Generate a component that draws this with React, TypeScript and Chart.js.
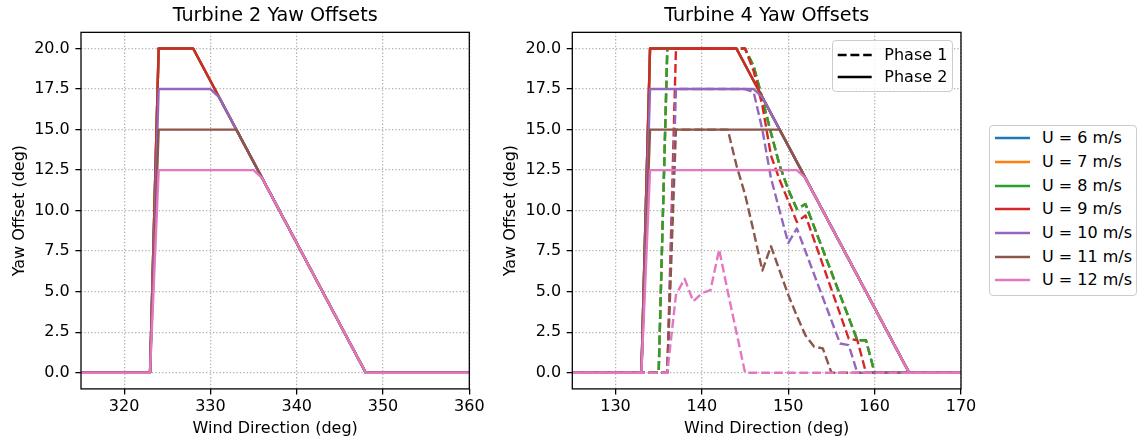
import React, { useEffect, useRef } from 'react';
import { Chart, registerables } from 'chart.js';

Chart.register(...registerables);

const FONT = '"DejaVu Sans", sans-serif';

const speedLabels = ['U = 6 m/s', 'U = 7 m/s', 'U = 8 m/s', 'U = 9 m/s', 'U = 10 m/s', 'U = 11 m/s', 'U = 12 m/s'];
const speedColors = ['#1f77b4', '#ff7f0e', '#2ca02c', '#d62728', '#9467bd', '#8c564b', '#e377c2'];
const yawTicks = [0, 2.5, 5, 7.5, 10, 12.5, 15, 17.5, 20];
const t2DirTicks = [320, 330, 340, 350, 360];
const t4DirTicks = [130, 140, 150, 160, 170];
const phaseLabels = ['Phase 1', 'Phase 2'];

// Turbine 2, phase 2 (breakpoints)
const t2Dir20 = [315, 323, 324, 328, 348, 360];
const t2Yaw20 = [0, 0, 20, 20, 0, 0];
const t2Dir10 = [315, 323, 324, 330, 331, 348, 360];
const t2Yaw10 = [0, 0, 17.5, 17.5, 17, 0, 0];
const t2Dir11 = [315, 323, 324, 333, 348, 360];
const t2Yaw11 = [0, 0, 15, 15, 0, 0];
const t2Dir12 = [315, 323, 324, 335, 336, 348, 360];
const t2Yaw12 = [0, 0, 12.5, 12.5, 12, 0, 0];

// Turbine 4, phase 2
const t4Dir20 = [125, 133, 134, 144, 164, 170];
const t4Yaw20 = [0, 0, 20, 20, 0, 0];
const t4Dir10 = [125, 133, 134, 146, 147, 164, 170];
const t4Yaw10 = [0, 0, 17.5, 17.5, 17, 0, 0];
const t4Dir11 = [125, 133, 134, 149, 164, 170];
const t4Yaw11 = [0, 0, 15, 15, 0, 0];
const t4Dir12 = [125, 133, 134, 151, 152, 164, 170];
const t4Yaw12 = [0, 0, 12.5, 12.5, 12, 0, 0];

// Turbine 4, phase 1
const p1Dir8 = [125, 135, 136, 145, 146, 147, 148, 149, 150, 151, 152, 158, 159, 160, 170];
const p1Yaw8 = [0, 0, 20, 20, 18.9, 16.9, 14.8, 12.8, 11.3, 10.1, 10.4, 2.0, 2.0, 0, 0];
const p1Dir9 = [125, 136, 137, 145, 146, 147, 148, 149, 150, 151, 152, 157, 158, 159, 170];
const p1Yaw9 = [0, 0, 20, 20, 18.6, 16.5, 13.4, 11.9, 10.6, 9.3, 9.7, 2.1, 2.0, 0, 0];
const p1Dir10 = [125, 136, 137, 145, 146, 147, 148, 149, 150, 151, 156, 157, 158, 170];
const p1Yaw10 = [0, 0, 17.5, 17.5, 17.3, 15.0, 12.0, 10.0, 8.0, 8.9, 1.8, 1.7, 0, 0];
const p1Dir11 = [125, 136, 137, 143, 144, 145, 146, 147, 148, 149, 150, 151, 152, 153, 154, 155, 170];
const p1Yaw11 = [0, 0, 15, 15, 12.8, 11.0, 8.7, 6.3, 7.8, 6.3, 4.8, 3.5, 2.3, 1.6, 1.5, 0, 0];
const p1Dir12 = [125, 136, 137, 138, 139, 140, 141, 142, 143, 144, 145, 170];
const p1Yaw12 = [0, 0, 4.8, 5.8, 4.4, 4.9, 5.1, 7.6, 5.0, 2.5, 0, 0];

const t2Phase2 = [
  [t2Dir20, t2Yaw20], [t2Dir20, t2Yaw20], [t2Dir20, t2Yaw20], [t2Dir20, t2Yaw20],
  [t2Dir10, t2Yaw10], [t2Dir11, t2Yaw11], [t2Dir12, t2Yaw12],
];
const t4Phase2 = [
  [t4Dir20, t4Yaw20], [t4Dir20, t4Yaw20], [t4Dir20, t4Yaw20], [t4Dir20, t4Yaw20],
  [t4Dir10, t4Yaw10], [t4Dir11, t4Yaw11], [t4Dir12, t4Yaw12],
];
const t4Phase1 = [
  [p1Dir8, p1Yaw8], [p1Dir8, p1Yaw8], [p1Dir8, p1Yaw8], [p1Dir9, p1Yaw9],
  [p1Dir10, p1Yaw10], [p1Dir11, p1Yaw11], [p1Dir12, p1Yaw12],
];

const LW = 2.4;
const DASH = [8.9, 3.84];

function series(dirs: number[], yaws: number[], color: string, dashed: boolean) {
  return {
    data: dirs.map((d, i) => ({ x: d, y: yaws[i] })),
    borderColor: color,
    backgroundColor: color,
    borderWidth: LW,
    borderDash: dashed ? DASH : [],
    borderCapStyle: dashed ? 'butt' : 'square',
    borderJoinStyle: 'round',
    pointRadius: 0,
    pointHoverRadius: 0,
    fill: false,
    tension: 0,
  };
}

const framePlugin = {
  id: 'frame',
  afterDatasetsDraw(chart: any) {
    const { ctx, chartArea: a } = chart;
    ctx.save();
    ctx.setLineDash([]);
    ctx.strokeStyle = '#000';
    ctx.lineWidth = 1.28;
    ctx.strokeRect(a.left, a.top, a.right - a.left, a.bottom - a.top);
    ctx.restore();
  },
};

function makeConfig(
  title: string,
  xMin: number,
  xMax: number,
  xTicks: number[],
  phase1: any[] | null,
  phase2: any[],
  yWidth: number,
  padRight: number,
  yTitlePad: number
) {
  const datasets: any[] = [];
  for (let i = 0; i < speedColors.length; i++) {
    if (phase1) datasets.push(series(phase1[i][0], phase1[i][1], speedColors[i], true));
    datasets.push(series(phase2[i][0], phase2[i][1], speedColors[i], false));
  }
  datasets.forEach((d, i) => (d.order = -i));
  const gridOpts = {
    color: '#b0b0b0',
    lineWidth: 1.28,
    tickColor: '#000',
    tickWidth: 1.28,
    tickLength: 5.6,
    tickBorderDash: [],
  };
  const borderOpts = { display: false, dash: [1.28, 2.1] };
  return {
    type: 'line',
    data: { datasets },
    plugins: [framePlugin],
    options: {
      responsive: false,
      animation: false,
      events: [],
      layout: { padding: { left: 0, right: padRight, top: 0, bottom: 0 } },
      plugins: {
        legend: { display: false },
        tooltip: { enabled: false },
        title: {
          display: true,
          text: title,
          fullSize: false,
          color: '#000',
          font: { family: FONT, size: 19.2, weight: 'normal', lineHeight: 1.2 },
          padding: { top: 4.6, bottom: 4.7 },
        },
      },
      scales: {
        x: {
          type: 'linear',
          min: xMin,
          max: xMax,
          afterBuildTicks: (s: any) => {
            s.ticks = xTicks.map((v) => ({ value: v }));
          },
          afterFit: (s: any) => {
            s.height = 50.1;
          },
          ticks: {
            color: '#000',
            font: { family: FONT, size: 16 },
            padding: 3,
            maxRotation: 0,
            autoSkip: false,
            callback: (v: any) => String(v),
          },
          grid: gridOpts,
          border: borderOpts,
          title: {
            display: true,
            text: 'Wind Direction (deg)',
            color: '#000',
            font: { family: FONT, size: 16, lineHeight: 1.2 },
            padding: { top: 0, bottom: 1 },
          },
        },
        y: {
          type: 'linear',
          min: -1,
          max: 21,
          afterBuildTicks: (s: any) => {
            s.ticks = yawTicks.map((v) => ({ value: v }));
          },
          afterFit: (s: any) => {
            s.width = yWidth;
          },
          ticks: {
            color: '#000',
            font: { family: FONT, size: 16 },
            padding: 5.6,
            autoSkip: false,
            callback: (v: any) => Number(v).toFixed(1),
          },
          grid: gridOpts,
          border: borderOpts,
          title: {
            display: true,
            text: 'Yaw Offset (deg)',
            color: '#000',
            font: { family: FONT, size: 16, lineHeight: 1.2 },
            padding: { top: yTitlePad, bottom: 0 },
          },
        },
      },
    },
  };
}

function ChartCanvas({ makeCfg, left, width }: { makeCfg: () => any; left: number; width: number }) {
  const ref = useRef<HTMLCanvasElement | null>(null);
  useEffect(() => {
    const chart = new Chart(ref.current as HTMLCanvasElement, makeCfg());
    return () => chart.destroy();
  }, []);
  return (
    <canvas
      ref={ref}
      width={width}
      height={439}
      style={{ position: 'absolute', left, top: 0, width, height: 439 }}
    />
  );
}

const legendBox: React.CSSProperties = {
  position: 'absolute',
  boxSizing: 'border-box',
  border: '1px solid #cccccc',
  borderRadius: 4,
  background: 'rgba(255,255,255,0.8)',
  fontFamily: FONT,
  fontSize: 16,
  color: '#000',
};

function LegendRow({ y, color, dashed, label, x0, x1, tx }: any) {
  return (
    <>
      <svg style={{ position: 'absolute', left: 0, top: y - 5, overflow: 'visible' }} width={x1 + 2} height={10}>
        <line
          x1={x0}
          y1={5}
          x2={x1}
          y2={5}
          stroke={color}
          strokeWidth={LW}
          strokeDasharray={dashed ? DASH.join(' ') : undefined}
        />
      </svg>
      <div style={{ position: 'absolute', left: tx, top: y - 10, height: 20, lineHeight: '20px', whiteSpace: 'nowrap' }}>
        {label}
      </div>
    </>
  );
}

export default function App() {
  return (
    <div style={{ position: 'absolute', left: 0, top: 0, width: 1141, height: 439, background: '#fff', overflow: 'hidden' }}>
      <ChartCanvas
        left={0}
        width={490}
        makeCfg={() => makeConfig('Turbine 2 Yaw Offsets', 315, 360, t2DirTicks, null, t2Phase2, 81, 20.7, 10.4)}
      />
      <ChartCanvas
        left={490}
        width={490}
        makeCfg={() => makeConfig('Turbine 4 Yaw Offsets', 125, 170, t4DirTicks, t4Phase1, t4Phase2, 82.3, 19, 11.4)}
      />
      <div style={{ ...legendBox, left: 832, top: 40, width: 121, height: 52 }}>
        {phaseLabels.map((lab, i) => (
          <LegendRow key={lab} y={14 + i * 21.7} color="#000" dashed={i === 0} label={lab} x0={4.7} x1={38.7} tx={51.3} />
        ))}
      </div>
      <div style={{ ...legendBox, left: 989, top: 125, width: 148, height: 171 }}>
        {speedLabels.map((lab, i) => (
          <LegendRow key={lab} y={12.3 + i * 23.67} color={speedColors[i]} dashed={false} label={lab} x0={5} x1={40} tx={52} />
        ))}
      </div>
    </div>
  );
}
